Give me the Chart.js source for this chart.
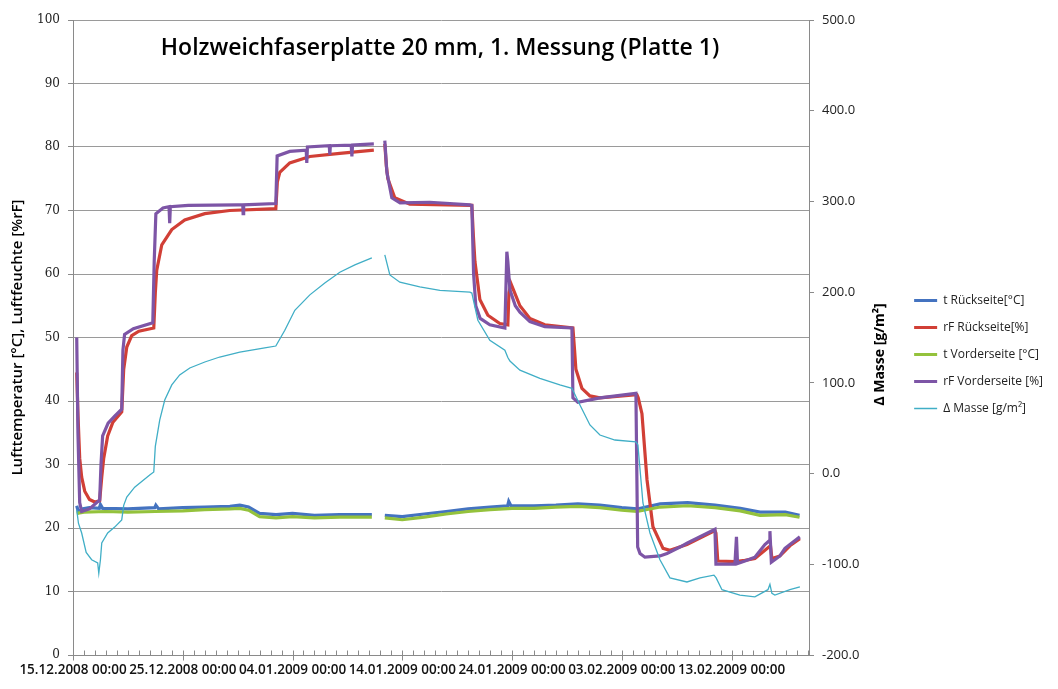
<!DOCTYPE html>
<html><head><meta charset="utf-8">
<script src="https://cdn.jsdelivr.net/npm/chart.js@4.4.1/dist/chart.umd.min.js"></script>
<style>html,body{margin:0;padding:0;background:#fff;}</style>
</head><body>
<canvas id="c" width="1058" height="689"></canvas>
<script>
const chartTitle = 'Holzweichfaserplatte 20 mm, 1. Messung (Platte 1)';
const leftAxisTitle = 'Lufttemperatur [°C], Luftfeuchte [%rF]';
const rightAxisTitle = '∆ Masse [g/m²]';
const seriesNames = ['t Rückseite[°C]', 'rF Rückseite[%]', 't Vorderseite [°C]', 'rF Vorderseite [%]', 'Δ Masse [g/m²]'];
// x values: days since 15.12.2008 00:00
const xTickValues = [0, 10, 20, 30, 40, 50, 60];
const xTickLabels = ['15.12.2008 00:00', '25.12.2008 00:00', '04.01.2009 00:00', '14.01.2009 00:00', '24.01.2009 00:00', '03.02.2009 00:00', '13.02.2009 00:00'];
const xMin = 0, xMax = 67.06;
const leftTicks = {min: 0, max: 100, step: 10};
const rightTicks = {min: -200, max: 500, step: 100};

const tRueck = [[0.34,23.5],[0.5,22.5],[0.8,23.0],[1.5,23.2],[2.4,23.1],[2.5,23.7],[2.7,23.1],[5,23.0],[7.45,23.2],[7.55,23.6],[7.8,23.0],[10,23.2],[12,23.3],[14.3,23.4],[15.2,23.6],[16,23.3],[17,22.3],[18.5,22.1],[20,22.3],[22,22.0],[24.3,22.1],[27.23,22.1],[27.8,null],[28.41,22.0],[30,21.8],[32,22.2],[34,22.6],[36,23.0],[38,23.3],[39.6,23.5],[39.7,24.2],[39.9,23.5],[42,23.5],[44,23.6],[46,23.8],[48,23.6],[50,23.2],[51.4,23.0],[53.5,23.8],[56,24.0],[58.5,23.6],[60.8,23.1],[62.6,22.5],[64.9,22.5],[66.2,22.0]];
const rfRueck = [[0.34,44.5],[0.45,38],[0.61,31],[0.79,28],[1.07,25.8],[1.5,24.5],[1.98,24.1],[2.43,24.3],[2.62,28],[2.80,31],[3.16,34.5],[3.62,36.6],[4.44,38.3],[4.62,45],[4.9,48.5],[5.35,50.3],[6.0,51.0],[7.36,51.5],[7.5,57],[7.63,60.6],[8.09,64.6],[9.0,67],[10.18,68.5],[12.01,69.5],[14.28,70],[18.48,70.3],[18.62,74.5],[18.84,76],[19.75,77.5],[21.58,78.5],[24.31,79],[27.41,79.5],[27.8,null],[28.41,80.5],[28.55,77],[28.69,75],[29.32,72],[30.69,71],[36.34,70.8],[36.48,66],[36.62,62],[37.07,56],[37.80,53.5],[38.89,52.2],[39.62,52],[39.72,57],[39.90,58.5],[40.72,55],[41.63,53],[42.99,52],[45.55,51.5],[45.70,48],[45.82,45],[46.37,42],[47.10,40.8],[48.01,40.5],[51.38,41.0],[51.5,40.5],[51.84,38],[52.30,27.6],[52.84,20.2],[53.76,16.8],[54.39,16.5],[55.94,17.4],[58.49,19.6],[58.58,19.2],[58.75,14.8],[60.31,14.7],[61.22,14.9],[62.13,15.2],[63.32,16.9],[63.55,17.2],[63.68,15.2],[64.41,15.6],[65.32,17.2],[66.23,18.3]];
const tVorder = [[0.34,22.3],[1,22.5],[3,22.6],[5,22.5],[7.5,22.6],[10,22.7],[12,22.9],[14.3,23.0],[15.2,23.1],[16,22.8],[17,21.8],[18.5,21.6],[20,21.8],[22,21.6],[24.3,21.7],[27.23,21.7],[27.8,null],[28.41,21.6],[30,21.3],[32,21.7],[34,22.2],[36,22.6],[38,22.9],[40,23.1],[42,23.1],[44,23.3],[46,23.4],[48,23.2],[50,22.8],[51.4,22.6],[53.5,23.3],[56,23.5],[58.5,23.2],[60.8,22.7],[62.6,22.0],[64.9,22.1],[66.2,21.7]];
const rfVorder = [[0.34,50],[0.45,35],[0.61,24],[0.79,22.6],[1.5,23.0],[2.43,24.4],[2.55,30],[2.7,34.5],[3.2,36.5],[3.8,37.6],[4.44,38.7],[4.55,48],[4.7,50.5],[5.5,51.4],[7.27,52.3],[7.40,62],[7.55,69.5],[8.2,70.4],[8.75,70.6],[8.81,68],[8.87,70.6],[10.5,70.8],[15.0,70.9],[15.47,70.9],[15.5,69.5],[15.55,70.9],[18.48,71.1],[18.6,78.6],[19.75,79.3],[21.25,79.5],[21.30,77.5],[21.36,80],[23.35,80.2],[23.40,78.8],[23.45,80.2],[25.35,80.3],[25.41,78.5],[25.47,80.3],[27.41,80.5],[27.8,null],[28.41,81],[28.6,76],[29.05,72],[29.8,71.2],[32.5,71.3],[36.16,70.9],[36.34,70.8],[36.5,60],[36.7,55],[37.1,53],[37.98,52],[39.35,51.5],[39.53,63.5],[39.62,62],[39.81,57.5],[40.3,55],[40.72,54],[41.63,52.5],[42.99,51.7],[45.46,51.5],[45.55,40.5],[46.0,39.8],[48.01,40.5],[51.29,41.2],[51.45,17],[51.66,16.0],[52.11,15.4],[53.48,15.6],[54.12,16],[55.3,17.0],[55.94,17.6],[58.49,19.8],[58.58,14.3],[60.31,14.3],[60.45,18.6],[60.55,14.4],[61.22,14.8],[62.13,15.4],[63.04,17.4],[63.45,18.0],[63.50,19.5],[63.63,14.6],[64.41,15.6],[64.87,16.8],[66.23,18.6]];
const dMasse = [[0.34,-40],[0.5,-55],[0.79,-65.5],[1.2,-87],[1.7,-95],[2.25,-98.6],[2.35,-110],[2.5,-95],[2.62,-76.5],[3.16,-65.5],[3.80,-59],[4.44,-51],[4.62,-35],[4.90,-25.8],[5.62,-15],[6.99,-1.6],[7.36,1.7],[7.5,30],[7.90,59],[8.36,81],[9.0,97.7],[9.72,108.7],[10.64,116.4],[12.01,123],[13.37,128.5],[15.20,134],[17.47,138.5],[18.48,140.6],[19.30,158],[20.21,180],[21.58,197],[22.94,210],[24.31,222],[25.68,230],[27.23,237.7],[27.8,null],[28.41,241],[28.87,219],[29.78,211],[31.60,205.7],[33.43,202],[36.16,200],[36.34,199],[36.89,169],[37.98,147],[39.35,136],[39.62,128],[39.81,124],[40.72,114],[42.54,105],[44.36,97.7],[45.46,94],[46.19,75.6],[47.10,53.6],[48.01,42.5],[49.38,37],[51.29,35],[51.47,31.5],[51.93,-32.4],[52.57,-65.5],[53.48,-95],[54.39,-115],[55.94,-119.5],[57.13,-115],[58.40,-112],[58.6,-115],[59.13,-128],[60.76,-134],[62.13,-136],[63.32,-128],[63.50,-122],[63.68,-132],[63.95,-134],[65.32,-128],[66.23,-125]];

const seriesData = [tRueck, rfRueck, tVorder, rfVorder, dMasse];
const seriesColors = ['#4473c0', '#d13f36', '#94c23c', '#7d55a6', '#40aec6'];
const seriesWidths = [3.2, 3.2, 3.2, 3.2, 1.3];
const seriesAxis = ['y', 'y', 'y', 'y', 'y1'];
const seriesOrder = [4, 3, 2, 1, 0];

const AREA = {left: 73, right: 809, top: 20, bottom: 655};
const PAD_RIGHT = 5;
const GRID = '#9a9a9a', AXIS = '#8a8a8a';

const xAxisTicks = {
  id: 'xAxisTicks',
  afterDraw(chart) {
    const xs = chart.scales.x, ctx = chart.ctx, y0 = Math.round(xs.top) + 0.5;
    ctx.save(); ctx.strokeStyle = AXIS; ctx.lineWidth = 1;
    for (let d = Math.ceil(xMin); d <= xMax; d++) {
      const px = Math.round(xs.getPixelForValue(d)) + 0.5;
      const major = xTickValues.includes(d);
      ctx.beginPath(); ctx.moveTo(px, y0 - 5); ctx.lineTo(px, major ? y0 + 5 : y0); ctx.stroke();
    }
    ctx.restore();
  }
};
const extraText = {
  id: 'extraText',
  afterDraw(chart) {
    const ctx = chart.ctx, ca = chart.chartArea, r = chart.scales.y1;
    ctx.save();
    ctx.fillStyle = '#000'; ctx.textAlign = 'center'; ctx.textBaseline = 'alphabetic';
    ctx.font = '600 23px "Open Sans"';
    ctx.fillText(chartTitle, 440, 55);
    ctx.translate(r.left + 71, (ca.top + ca.bottom) / 2 + 17);
    ctx.rotate(-Math.PI / 2);
    ctx.textBaseline = 'middle';
    ctx.font = 'bold 14px "Open Sans"';
    ctx.fillText(rightAxisTitle, 0, 0);
    ctx.restore();
  }
};

new Chart(document.getElementById('c'), {
  type: 'line',
  data: {
    datasets: seriesData.map((arr, i) => ({
      label: seriesNames[i],
      data: arr.map(p => ({x: p[0], y: p[1]})),
      borderColor: seriesColors[i], backgroundColor: seriesColors[i],
      borderWidth: seriesWidths[i], pointRadius: 0, tension: 0,
      spanGaps: false, yAxisID: seriesAxis[i], order: seriesOrder[i],
      pointStyle: 'line'
    }))
  },
  options: {
    responsive: false, animation: false, devicePixelRatio: 1,
    layout: {padding: {top: AREA.top, left: 0, right: PAD_RIGHT, bottom: 0}},
    plugins: {
      legend: {
        position: 'right',
        labels: {
          usePointStyle: true, pointStyle: 'line', pointStyleWidth: 23, boxHeight: 10,
          padding: 15, color: '#222',
          font: {family: '"Open Sans"', size: 12},
          sort: (a, b) => a.datasetIndex - b.datasetIndex
        }
      },
      tooltip: {enabled: false}
    },
    scales: {
      x: {
        type: 'linear', min: xMin, max: xMax,
        afterBuildTicks: s => { s.ticks = xTickValues.map(v => ({value: v})); },
        afterFit: s => { s.height = 689 - AREA.bottom; },
        ticks: {
          autoSkip: false, maxRotation: 0, padding: 7, color: '#111',
          font: {family: '"Open Sans"', size: 13.5, weight: '600'},
          callback: (v) => { const i = xTickValues.indexOf(v); return i >= 0 ? xTickLabels[i] : ''; }
        },
        grid: {display: false, drawTicks: false},
        border: {display: true, color: AXIS}
      },
      y: {
        position: 'left', min: leftTicks.min, max: leftTicks.max,
        afterFit: s => { s.width = AREA.left; },
        ticks: {stepSize: leftTicks.step, padding: 8, color: '#222', font: {family: '"DejaVu Serif"', size: 12}},
        grid: {color: GRID, tickColor: AXIS, tickLength: 5},
        border: {display: true, color: AXIS},
        title: {display: true, text: leftAxisTitle, color: '#000', font: {family: '"Open Sans"', size: 15, weight: '600'}, padding: {top: 9, bottom: 0}}
      },
      y1: {
        position: 'right', min: rightTicks.min, max: rightTicks.max,
        afterFit: s => { s.width = s.chart.width - PAD_RIGHT - s.chart.legend.width - AREA.right; },
        ticks: {stepSize: rightTicks.step, padding: 8, color: '#222', font: {family: '"Open Sans"', size: 13},
          callback: v => v.toFixed(1)},
        grid: {drawOnChartArea: false, tickColor: AXIS, tickLength: 5},
        border: {display: true, color: AXIS}
      }
    }
  },
  plugins: [xAxisTicks, extraText]
});
</script>
</body></html>
